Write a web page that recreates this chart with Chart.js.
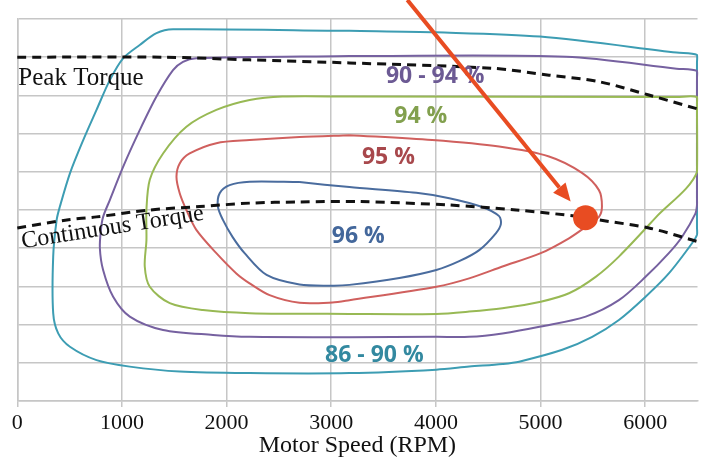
<!DOCTYPE html>
<html>
<head>
<meta charset="utf-8">
<script src="https://cdn.jsdelivr.net/npm/chart.js@4.4.1/dist/chart.umd.min.js"></script>
<style>
  html, body { margin: 0; padding: 0; background: #fff; }
  #wrap { width: 710px; height: 458px; }
</style>
</head>
<body>
<div id="wrap"><canvas id="effChart" width="710" height="458"></canvas></div>
<script>
// Efficiency contours, [speed RPM, torque (grid units)]
const band86 = [[3174,9.69],[4004,9.65],[4996,9.54],[6300,9.12],[6495,9.06],[6495,8.85],[6495,4.55],[6495,4.35],[6448,4.13],[6226,3.34],[6004,2.73],[5749,2.12],[5494,1.68],[5208,1.34],[4795,1.03],[4636,0.97],[4318,0.90],[4004,0.82],[3174,0.73],[2220,0.73],[1552,0.77],[1075,0.90],[757,1.07],[503,1.42],[391,1.77],[343,2.30],[343,3.78],[376,4.74],[407,5.09],[503,5.96],[630,6.83],[757,7.62],[884,8.40],[1011,8.97],[1170,9.32],[1330,9.63],[1488,9.73],[3174,9.69]];
const band90 = [[3174,9.03],[5244,9.01],[6300,8.70],[6495,8.64],[6495,8.45],[6495,5.30],[6495,5.13],[6481,4.91],[6353,4.30],[6226,3.87],[6004,3.25],[5749,2.64],[5432,2.21],[5002,1.95],[4636,1.77],[4318,1.68],[4004,1.68],[3174,1.67],[2220,1.68],[1870,1.73],[1393,1.86],[1075,2.21],[916,2.73],[820,3.43],[789,4.00],[799,4.48],[820,4.82],[884,5.26],[1011,6.13],[1170,7.09],[1330,7.97],[1488,8.66],[1583,8.88],[1711,8.97],[3174,9.03]];
const band94 = [[3174,7.97],[6300,7.96],[6495,7.96],[6495,7.80],[6495,5.99],[6100,4.80],[5749,3.78],[5527,3.25],[5272,2.82],[5002,2.60],[4636,2.43],[4318,2.34],[4004,2.28],[3174,2.28],[2220,2.30],[1774,2.38],[1457,2.56],[1266,2.99],[1218,3.52],[1234,4.21],[1234,5.00],[1266,5.79],[1393,6.48],[1616,7.18],[1902,7.62],[2220,7.88],[2534,7.97],[3174,7.97]];
const band95 = [[3174,6.96],[3965,6.83],[4604,6.66],[5081,6.40],[5396,5.97],[5558,5.52],[5587,5.09],[5558,4.82],[5432,4.56],[5272,4.26],[5002,3.87],[4636,3.52],[4318,3.21],[4004,2.99],[3174,2.64],[3011,2.58],[2697,2.57],[2411,2.77],[2220,3.08],[2093,3.34],[1902,3.87],[1711,4.48],[1616,5.00],[1552,5.44],[1521,5.87],[1552,6.22],[1647,6.48],[1902,6.75],[2220,6.83],[2697,6.91],[3174,6.96]];
const band96 = [[2697,5.73],[3174,5.60],[3813,5.45],[4128,5.31],[4442,5.08],[4604,4.84],[4621,4.63],[4573,4.39],[4414,3.95],[4223,3.66],[4004,3.43],[3651,3.22],[3174,3.04],[3011,3.02],[2697,3.05],[2382,3.30],[2172,3.87],[2058,4.29],[1965,4.74],[1917,5.09],[1934,5.44],[2029,5.65],[2220,5.74],[2697,5.73]];

// Torque limit curves
const peakTorque = [[0,9.00],[1393,9.00],[2220,8.93],[3174,8.85],[4538,8.71],[5081,8.53],[5558,8.36],[6035,8.01],[6495,7.65]];
const continuousTorque = [[0,4.53],[474,4.74],[757,4.82],[1266,5.00],[1743,5.09],[2220,5.18],[2697,5.21],[3269,5.22],[4128,5.13],[4767,5.00],[5396,4.82],[5558,4.74],[6035,4.53],[6495,4.18]];

// Operating point and the arrow pointing at it
const operatingPoint = [[5430,4.80]];
const arrowFrom = [3727,10.5];
const arrowTo = [5288,5.22];

// Band labels
const labelText = ['90 - 94 %', '94 %', '95 %', '96 %', '86 - 90 %'];
const labelSpeed = [3994, 3856, 3546, 3259, 3412];
const labelTorque = [8.49, 7.46, 6.38, 4.30, 1.19];
const labelColor = ['#6c5a94', '#82a04e', '#a8484c', '#43679b', '#3389a0'];

// Axis
const speedTicks = [0, 1000, 2000, 3000, 4000, 5000, 6000];

const toPoints = arr => arr.map(p => ({ x: p[0], y: p[1] }));

function contour(data, color) {
    return {
        data: toPoints(data),
        showLine: true,
        borderColor: color,
        borderWidth: 2,
        pointRadius: 0,
        tension: 0.3,
        clip: false
    };
}

function limitLine(data) {
    return {
        data: toPoints(data),
        showLine: true,
        borderColor: '#111',
        borderWidth: 3,
        borderDash: [9, 6],
        pointRadius: 0,
        tension: 0.3,
        clip: false
    };
}

const overlayPlugin = {
    id: 'overlay',
    afterDatasetsDraw(chart) {
        const { ctx, scales: { x, y } } = chart;
        ctx.save();

        // Text on the chart
        ctx.textAlign = 'center';
        ctx.textBaseline = 'middle';
        ctx.font = 'bold 23px "Open Sans"';
        labelText.forEach((t, i) => {
            ctx.fillStyle = labelColor[i];
            ctx.fillText(t, x.getPixelForValue(labelSpeed[i]), y.getPixelForValue(labelTorque[i]));
        });

        ctx.fillStyle = '#111';
        ctx.textAlign = 'left';
        ctx.textBaseline = 'alphabetic';
        ctx.font = '25px "Liberation Serif"';
        ctx.fillText('Peak Torque', x.getPixelForValue(10), y.getPixelForValue(8.27));

        ctx.save();
        ctx.font = '24px "Liberation Serif"';
        ctx.translate(x.getPixelForValue(50), y.getPixelForValue(4.0));
        ctx.rotate(-8.9 * Math.PI / 180);
        ctx.fillText('Continuous Torque', 0, 0);
        ctx.restore();

        // Arrow
        const x0 = x.getPixelForValue(arrowFrom[0]), y0 = y.getPixelForValue(arrowFrom[1]);
        const x1 = x.getPixelForValue(arrowTo[0]), y1 = y.getPixelForValue(arrowTo[1]);
        const ang = Math.atan2(y1 - y0, x1 - x0);
        const head = 18, half = 8;
        const bx = x1 - head * Math.cos(ang), by = y1 - head * Math.sin(ang);
        ctx.strokeStyle = '#e84c22';
        ctx.fillStyle = '#e84c22';
        ctx.lineWidth = 4;
        ctx.beginPath();
        ctx.moveTo(x0, y0);
        ctx.lineTo(bx, by);
        ctx.stroke();
        ctx.beginPath();
        ctx.moveTo(x1, y1);
        ctx.lineTo(bx + half * Math.sin(ang), by - half * Math.cos(ang));
        ctx.lineTo(bx - half * Math.sin(ang), by + half * Math.cos(ang));
        ctx.closePath();
        ctx.fill();

        ctx.restore();
    }
};

const gridColor = '#c6c6c6';

new Chart(document.getElementById('effChart'), {
    type: 'scatter',
    data: {
        datasets: [
            {
                data: toPoints(operatingPoint),
                pointRadius: 12.5,
                pointBackgroundColor: '#e84c22',
                pointBorderWidth: 0,
                clip: false
            },
            limitLine(peakTorque),
            limitLine(continuousTorque),
            contour(band96, '#4a6c9e'),
            contour(band95, '#d0605e'),
            contour(band94, '#98b954'),
            contour(band90, '#7661a0'),
            contour(band86, '#3d9db3')
        ]
    },
    options: {
        responsive: false,
        animation: false,
        events: [],
        layout: { padding: { top: 19, right: 11.7, left: 0, bottom: 0 } },
        plugins: {
            legend: { display: false },
            tooltip: { enabled: false }
        },
        scales: {
            x: {
                type: 'linear',
                min: 0,
                max: 6500,
                afterFit: s => { s.height = 57; },
                afterBuildTicks: s => { s.ticks = speedTicks.map(v => ({ value: v })); },
                ticks: {
                    color: '#111',
                    font: { family: '"Liberation Serif"', size: 22 },
                    padding: 3,
                    maxRotation: 0,
                    callback: v => String(v)
                },
                grid: { color: gridColor, lineWidth: 1.5, tickLength: 6 },
                border: { color: gridColor, width: 1.5 },
                title: {
                    display: true,
                    text: 'Motor Speed (RPM)',
                    color: '#111',
                    font: { family: '"Liberation Serif"', size: 24, lineHeight: 1.0 },
                    padding: 0
                }
            },
            y: {
                type: 'linear',
                min: 0,
                max: 10,
                afterFit: s => { s.width = 17.3; },
                ticks: { display: false, stepSize: 1 },
                grid: { color: gridColor, lineWidth: 1.5, drawTicks: false },
                border: { color: gridColor, width: 1.5 }
            }
        }
    },
    plugins: [overlayPlugin]
});
</script>
</body>
</html>
